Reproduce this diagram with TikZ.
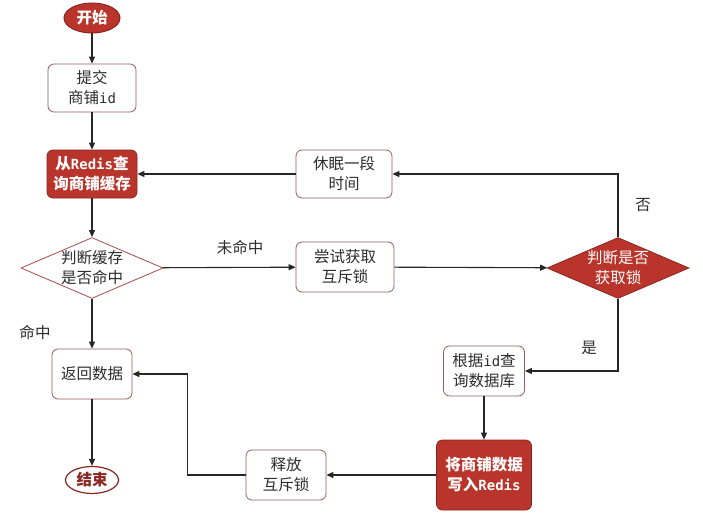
\documentclass[tikz,border=0pt]{standalone}
\usepackage{fontspec}
\setmainfont{Noto Sans CJK SC}
\newfontfamily\latmono{DejaVu Sans Mono}
\newcommand{\lat}[1]{{\latmono\fontsize{14}{19}\selectfont #1}}
\usetikzlibrary{arrows.meta,shapes.geometric}
\definecolor{redfill}{RGB}{185,52,42}
\definecolor{redline}{RGB}{140,38,32}
\definecolor{boxline}{RGB}{150,92,92}
\definecolor{textgray}{RGB}{45,45,45}

\begin{document}
\begin{tikzpicture}[x=1pt,y=-1pt,
	font=\fontsize{15.5}{20}\selectfont,
	whitebox/.style={draw=boxline,fill=white,rounded corners=6pt,line width=0.8pt,align=center,inner sep=0pt,text=textgray},
	redbox/.style={whitebox,draw=redline,fill=redfill,text=white,font=\fontsize{15.5}{20}\selectfont\bfseries},
	whitediamond/.style={draw=boxline!80!red,fill=white,diamond,aspect=2.33,inner sep=0pt,align=center,line width=0.8pt,minimum width=140pt,minimum height=60pt,text=textgray},
	reddiamond/.style={whitediamond,draw=redline,fill=redfill,text=white},
	link/.style={draw=black!85,line width=1.1pt,-{Triangle[length=7pt,width=6pt]}},
	tag/.style={text=textgray,inner sep=1pt}]
	\useasboundingbox (0,0) rectangle (703,516);
	\node[ellipse,draw=redline,fill=redfill,text=white,font=\fontsize{15.5}{20}\selectfont\bfseries,line width=1pt,inner sep=0pt,minimum width=56pt,minimum height=30pt] (start) at (92,18) {开始};
	\node[whitebox,minimum width=88pt,minimum height=48pt] (submit) at (92,88) {提交\\商铺\lat{id}};
	\node[redbox,minimum width=90pt,minimum height=48pt] (query) at (92,174) {从\lat{Redis}查\\询商铺缓存};
	\node[whitediamond] (hit) at (92,268) {判断缓存\\是否命中};
	\node[whitebox,minimum width=98pt,minimum height=50pt] (trylock) at (345,267) {尝试获取\\互斥锁};
	\node[whitebox,minimum width=96pt,minimum height=48pt] (sleep) at (344,174) {休眠一段\\时间};
	\node[reddiamond] (gotlock) at (618,268) {判断是否\\获取锁};
	\node[whitebox,minimum width=81pt,minimum height=50pt] (querydb) at (484,371) {根据\lat{id}查\\询数据库};
	\node[redbox,minimum width=95pt,minimum height=70pt] (write) at (484,475) {将商铺数据\\写入\lat{Redis}};
	\node[whitebox,minimum width=80pt,minimum height=50pt] (unlock) at (286,475) {释放\\互斥锁};
	\node[whitebox,minimum width=80pt,minimum height=50pt] (result) at (92,374) {返回数据};
	\node[ellipse,draw=redline,fill=white,text=redline,font=\fontsize{15.5}{20}\selectfont\bfseries,line width=1.2pt,inner sep=0pt,minimum width=53pt,minimum height=27pt] (end) at (92,480) {结束};
	\node[tag] (miss) at (240,248) {未命中};
	\node[tag] (hitlabel) at (35,333) {命中};
	\node[tag] (no) at (643,205) {否};
	\node[tag] (yes) at (589,348) {是};
	\draw[link] (start) -- (submit);
	\draw[link] (submit) -- (query);
	\draw[link] (query) -- (hit);
	\draw[link] (hit) -- (result);
	\draw[link] (result) -- (end);
	\draw[link] (hit) -- (trylock);
	\draw[link] (trylock) -- (gotlock);
	\draw[link] (gotlock.north) |- (sleep.east);
	\draw[link] (sleep) -- (query);
	\draw[link] (gotlock.south) |- (querydb.east);
	\draw[link] (querydb) -- (write);
	\draw[link] (write) -- (unlock);
	\draw[link] (unlock.west) -- ++(-58,0) |- (result.east);
\end{tikzpicture}
\end{document}
